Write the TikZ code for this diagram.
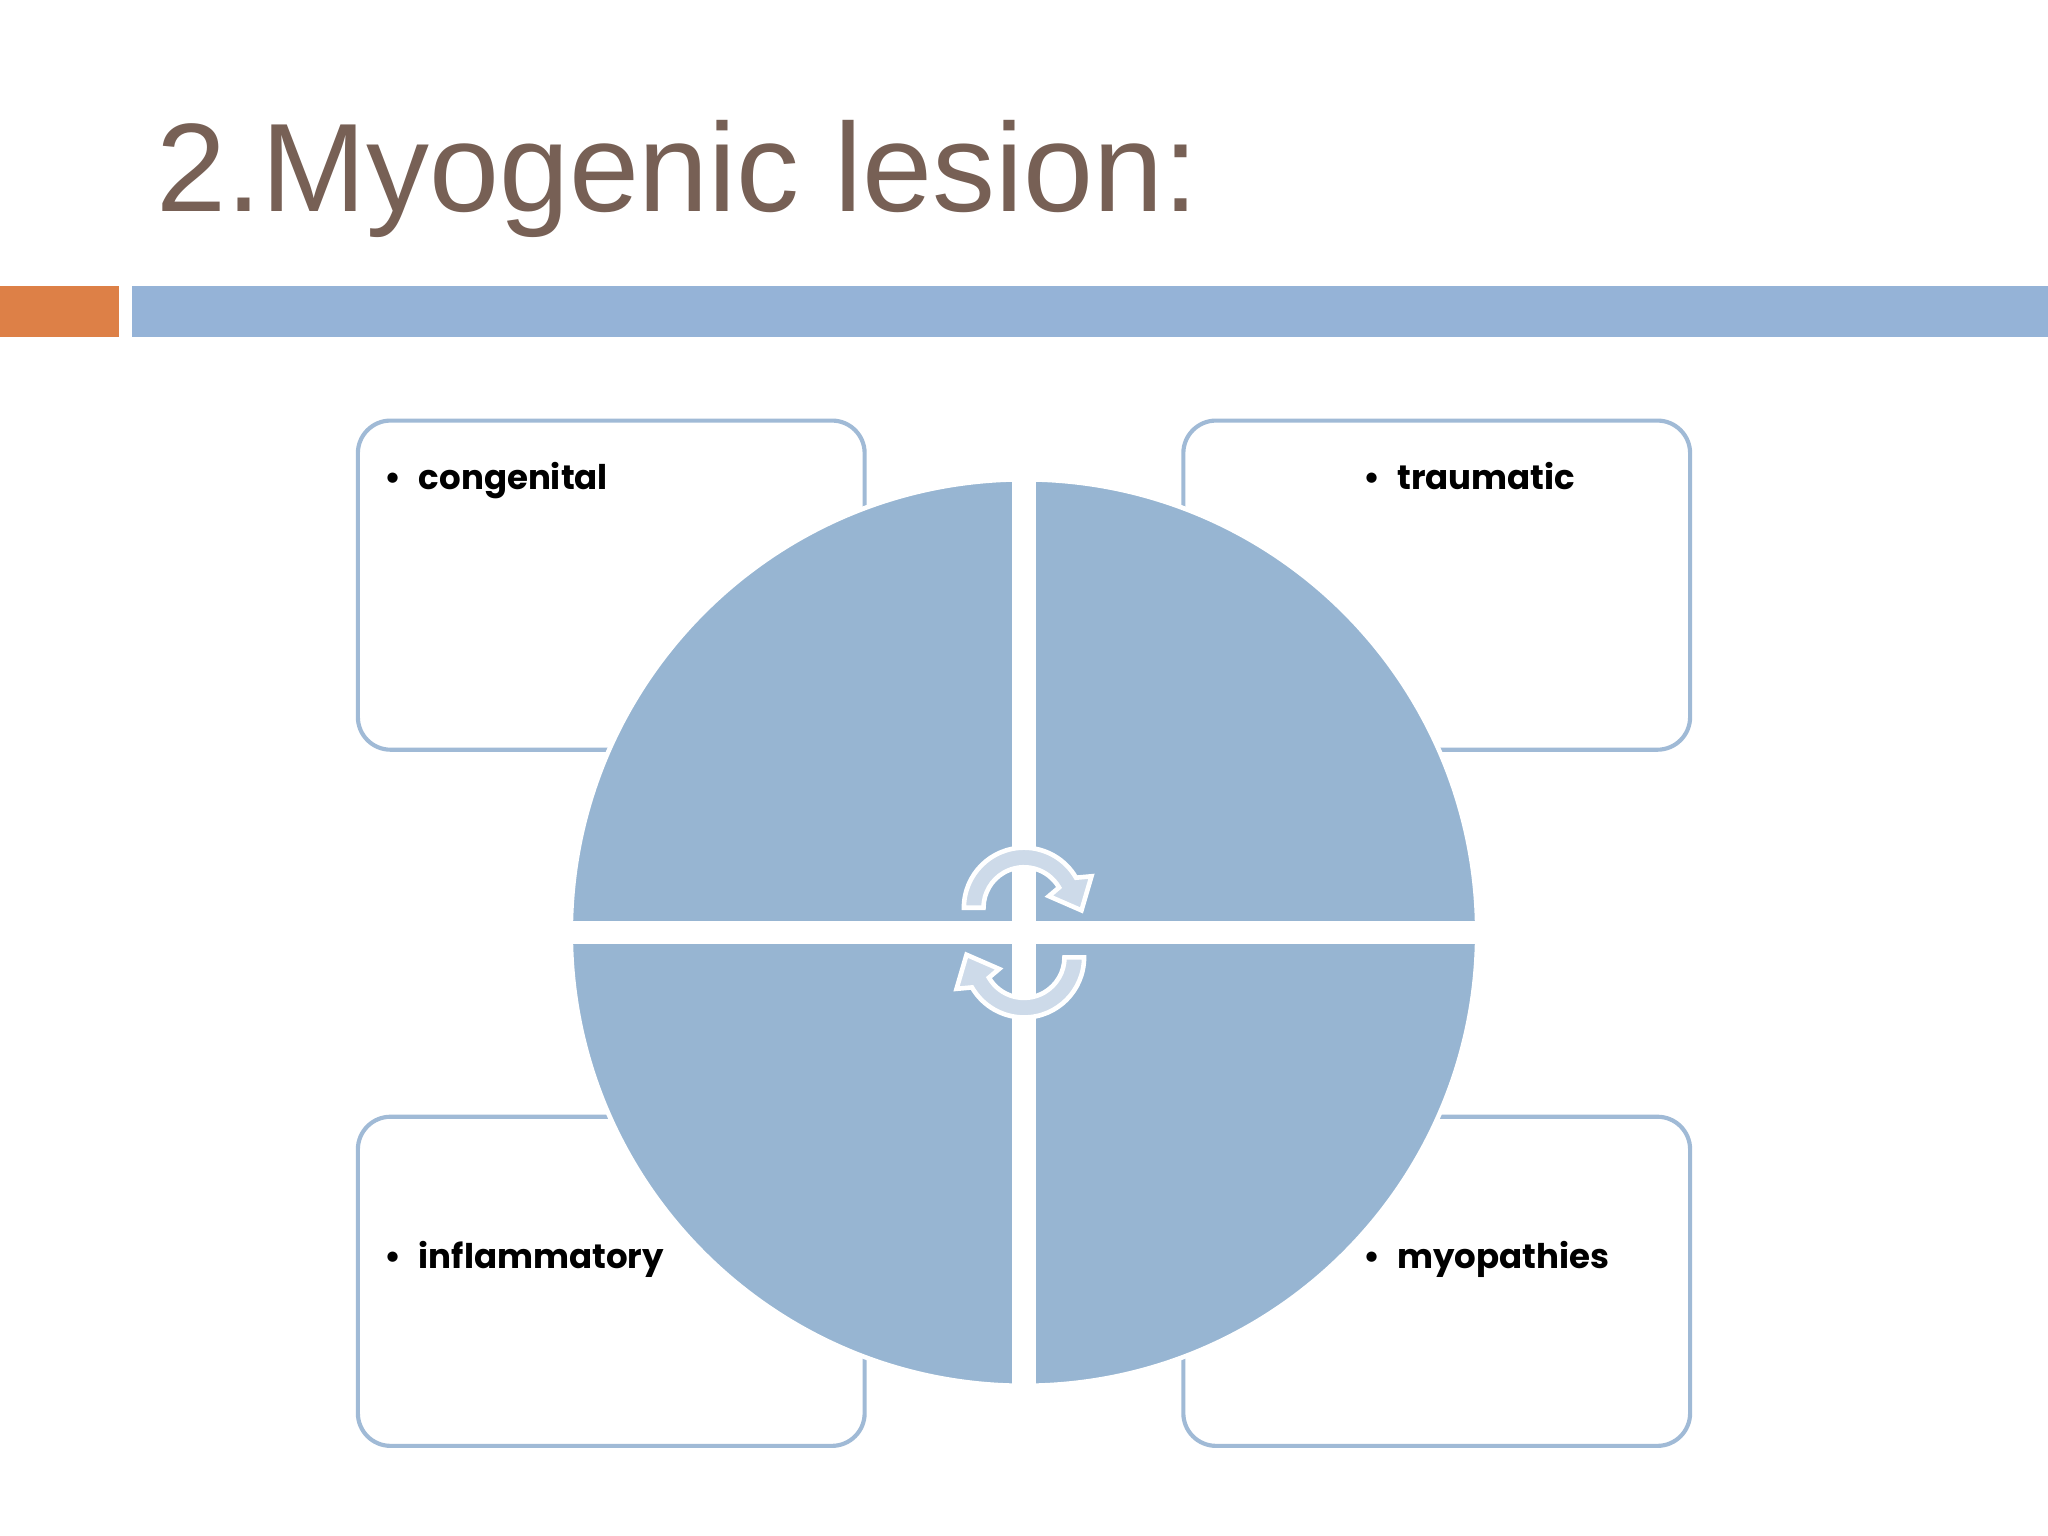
\documentclass[tikz,border=0pt]{standalone}
\usepackage{fontspec}
\setmainfont{Liberation Sans}
\newfontfamily\gothic{Poppins}
\begin{document}
\begin{tikzpicture}[x=0.01cm,y=-0.01cm,
  box/.style={draw=boxline,line width=0.9pt,rounded corners=0.25cm},
  lbl/.style={font=\gothic\bfseries\fontsize{7.4}{9}\selectfont,anchor=base west,inner sep=0pt},
  arr/.style={fill=arrowfill,draw=white,line width=1pt}]
\definecolor{titlec}{RGB}{119,96,85}
\definecolor{orangebar}{RGB}{221,128,71}
\definecolor{bluebar}{RGB}{149,179,215}
\definecolor{boxline}{RGB}{160,186,214}
\definecolor{quad}{RGB}{151,181,210}
\definecolor{arrowfill}{RGB}{205,218,233}
\useasboundingbox (0,0) rectangle (1568,1176);
\fill[white] (0,0) rectangle (1568,1176);
\node[anchor=base west,inner sep=0pt,text=titlec,font=\fontsize{27.4}{30}\selectfont] (title) at (119,162) {2.Myogenic lesion:};
\fill[orangebar] (0,219) rectangle (91,258);
\fill[bluebar] (101,219) rectangle (1568,258);
\draw[box] (274,322) rectangle (662,574);
\draw[box] (906,322) rectangle (1294,574);
\draw[box] (274,855) rectangle (662,1107);
\draw[box] (906,855) rectangle (1294,1107);
\node[lbl] (t1) at (294,375) {\textbullet\hspace{0.5em}congenital};
\node[lbl] (t2) at (1043,375) {\textbullet\hspace{0.5em}traumatic};
\node[lbl] (t3) at (294,971) {\textbullet\hspace{0.5em}inflammatory};
\node[lbl] (t4) at (1043,971) {\textbullet\hspace{0.5em}myopathies};
\coordinate (c) at (784,714);
\fill[quad,draw=white,line width=1pt] (c) circle[radius=347];
\draw[white,line width=18*0.2845pt] (784,364) -- (784,1064);
\draw[white,line width=18*0.2845pt] (434,714) -- (1134,714);
\def\arrowpath{(-46,0) arc[start angle=180,end angle=330,radius=46] -- (335:57) -- (44,2) -- (335:21) -- (330:31) arc[start angle=330,end angle=180,radius=31] -- cycle}
\begin{scope}[shift={(784,695)}]
\draw[arr] \arrowpath;
\end{scope}
\begin{scope}[shift={(784,733)},rotate=180]
\draw[arr] \arrowpath;
\end{scope}
\end{tikzpicture}
\end{document}
